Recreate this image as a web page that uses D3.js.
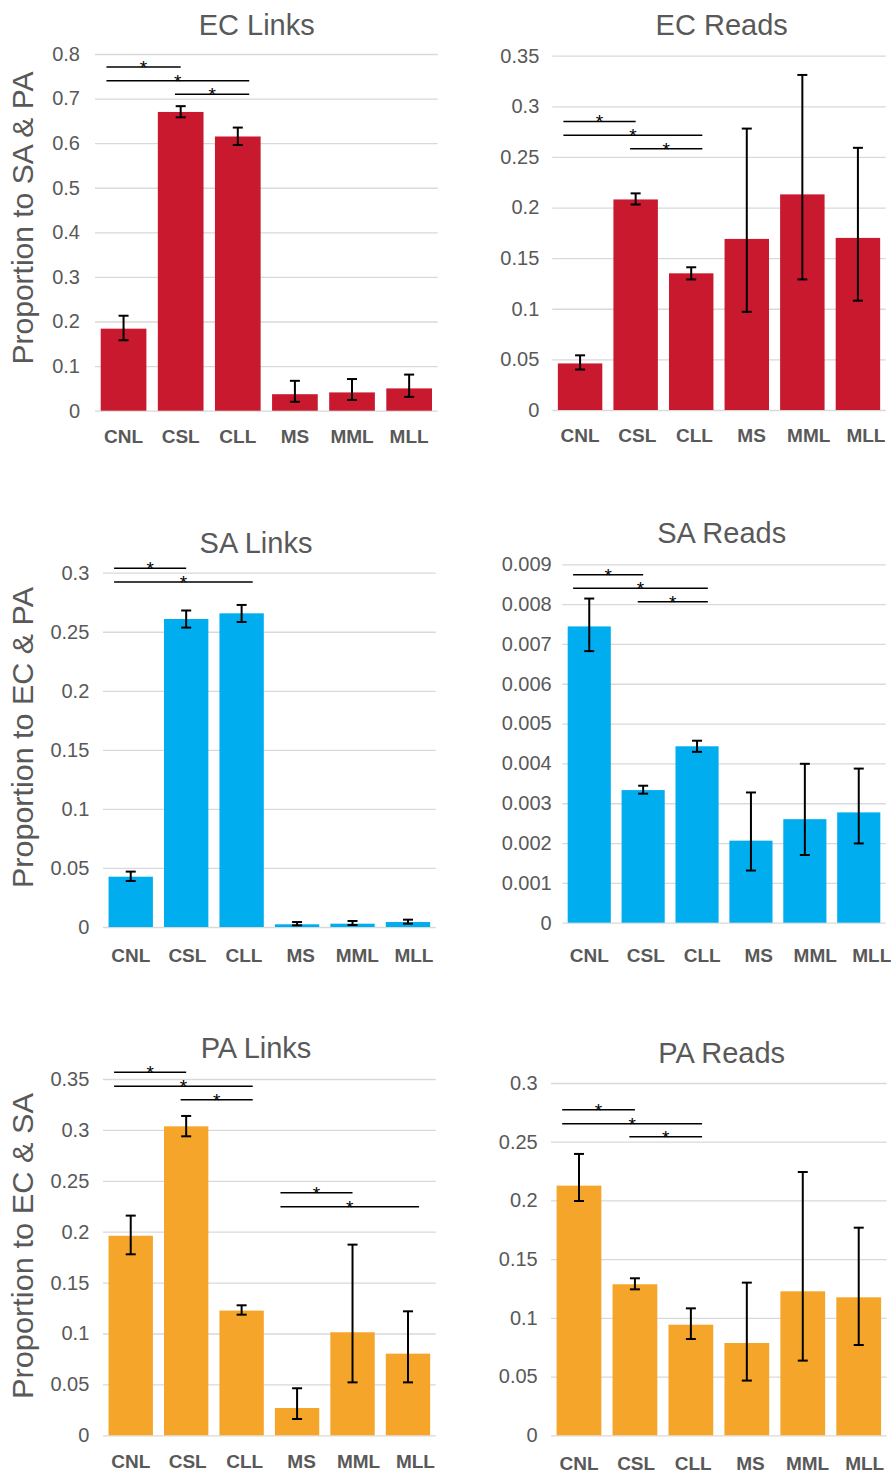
<!DOCTYPE html>
<html>
<head>
<meta charset="utf-8">
<script src="https://cdn.jsdelivr.net/npm/d3@7"></script>
<style>
  html, body { margin: 0; padding: 0; background: #fff; }
  svg { display: block; font-family: "Liberation Sans", Arial, sans-serif; }
</style>
</head>
<body>
<svg id="chart" width="893" height="1473"></svg>
<script>
// Sample groups on the x axis
const categories = ["CNL", "CSL", "CLL", "MS", "MML", "MLL"];

// EC links: proportion to SA & PA (mean, upper and lower error bar ends)
const ecLinks   = [0.184, 0.670, 0.615, 0.037, 0.041, 0.050];
const ecLinksHi = [0.213, 0.683, 0.635, 0.067, 0.071, 0.081];
const ecLinksLo = [0.158, 0.658, 0.596, 0.020, 0.024, 0.031];
const ecLinksTicks = [0, 0.1, 0.2, 0.3, 0.4, 0.5, 0.6, 0.7, 0.8];
const ecLinksSig = [{ a: 0, b: 1, at: 0.771 }, { a: 0, b: 2, at: 0.740 }, { a: 1, b: 2, at: 0.710 }];

// EC reads
const ecReads   = [0.046, 0.208, 0.135, 0.169, 0.213, 0.170];
const ecReadsHi = [0.054, 0.214, 0.141, 0.278, 0.331, 0.259];
const ecReadsLo = [0.040, 0.203, 0.129, 0.097, 0.129, 0.108];
const ecReadsTicks = [0, 0.05, 0.1, 0.15, 0.2, 0.25, 0.3, 0.35];
const ecReadsSig = [{ a: 0, b: 1, at: 0.285 }, { a: 0, b: 2, at: 0.2714 }, { a: 1, b: 2, at: 0.2582 }];

// SA links: proportion to EC & PA
const saLinks   = [0.0426, 0.2608, 0.2656, 0.0023, 0.0028, 0.0042];
const saLinksHi = [0.0469, 0.2680, 0.2727, 0.0042, 0.0051, 0.0062];
const saLinksLo = [0.0390, 0.2535, 0.2583, 0.0014, 0.0017, 0.0028];
const saLinksTicks = [0, 0.05, 0.1, 0.15, 0.2, 0.25, 0.3];
const saLinksSig = [{ a: 0, b: 1, at: 0.3037 }, { a: 0, b: 2, at: 0.2921 }];

// SA reads
const saReads   = [0.00744, 0.00333, 0.00443, 0.00206, 0.00260, 0.00277];
const saReadsHi = [0.00814, 0.00344, 0.00457, 0.00327, 0.00399, 0.00387];
const saReadsLo = [0.00682, 0.00324, 0.00429, 0.00131, 0.00170, 0.00199];
const saReadsTicks = [0, 0.001, 0.002, 0.003, 0.004, 0.005, 0.006, 0.007, 0.008, 0.009];
const saReadsSig = [{ a: 0, b: 1, at: 0.00874 }, { a: 0, b: 2, at: 0.00840 }, { a: 1, b: 2, at: 0.00806 }];

// PA links: proportion to EC & SA
const paLinks   = [0.1960, 0.3035, 0.1225, 0.0268, 0.1012, 0.0802];
const paLinksHi = [0.2158, 0.3137, 0.1277, 0.0462, 0.1873, 0.1218];
const paLinksLo = [0.1778, 0.2937, 0.1185, 0.0160, 0.0520, 0.0520];
const paLinksTicks = [0, 0.05, 0.1, 0.15, 0.2, 0.25, 0.3, 0.35];
const paLinksSig = [
  { a: 0, b: 1, at: 0.3566 }, { a: 0, b: 2, at: 0.3428 }, { a: 1, b: 2, at: 0.3297 },
  { a: 3, b: 4, at: 0.2383 }, { a: 3, b: 5, at: 0.2246 }
];

// PA reads
const paReads   = [0.2126, 0.1286, 0.0942, 0.0786, 0.1226, 0.1175];
const paReadsHi = [0.2396, 0.1337, 0.1081, 0.1300, 0.2242, 0.1768];
const paReadsLo = [0.1995, 0.1243, 0.0820, 0.0466, 0.0636, 0.0769];
const paReadsTicks = [0, 0.05, 0.1, 0.15, 0.2, 0.25, 0.3];
const paReadsSig = [{ a: 0, b: 1, at: 0.2773 }, { a: 0, b: 2, at: 0.2653 }, { a: 1, b: 2, at: 0.2543 }];

const RED = "#C8192F", BLUE = "#00AEEF", ORANGE = "#F5A52A";
const TEXT = "#595959", GRID = "#D9D9D9";

const panels = [
  { title: "EC Links", yTitle: "Proportion to SA & PA", color: RED,
    values: ecLinks, hi: ecLinksHi, lo: ecLinksLo, ticks: ecLinksTicks, sig: ecLinksSig,
    box: { x0: 95, x1: 437.7, yTop: 54, yBot: 410.7 }, titleX: 256.7, titleY: 35,
    tickGap: 15, labelDy: 32, labelSpread: 0, yTitleX: 33, yTitleY: 218, yTitleLen: 293 },
  { title: "EC Reads", color: RED,
    values: ecReads, hi: ecReadsHi, lo: ecReadsLo, ticks: ecReadsTicks, sig: ecReadsSig,
    box: { x0: 552.3, x1: 885.7, yTop: 55.7, yBot: 410 }, titleX: 721.7, titleY: 35,
    tickGap: 13, labelDy: 31.7, labelSpread: 8 },
  { title: "SA Links", yTitle: "Proportion to EC & PA", color: BLUE,
    values: saLinks, hi: saLinksHi, lo: saLinksLo, ticks: saLinksTicks, sig: saLinksSig,
    box: { x0: 103, x1: 435.7, yTop: 572.7, yBot: 927 }, titleX: 256, titleY: 553.3,
    tickGap: 13.7, labelDy: 34.7, labelSpread: 6, yTitleX: 33, yTitleY: 737.5, yTitleLen: 301 },
  { title: "SA Reads", color: BLUE,
    values: saReads, hi: saReadsHi, lo: saReadsLo, ticks: saReadsTicks, sig: saReadsSig,
    box: { x0: 562.3, x1: 885.7, yTop: 564.3, yBot: 922.7 }, titleX: 721.7, titleY: 543.3,
    tickGap: 10.6, labelDy: 39, labelSpread: 13 },
  { title: "PA Links", yTitle: "Proportion to EC & SA", color: ORANGE,
    values: paLinks, hi: paLinksHi, lo: paLinksLo, ticks: paLinksTicks, sig: paLinksSig,
    box: { x0: 103, x1: 435.7, yTop: 1079, yBot: 1435.3 }, titleX: 256, titleY: 1058.3,
    tickGap: 13.7, labelDy: 32.4, labelSpread: 7.5, yTitleX: 33, yTitleY: 1246, yTitleLen: 306 },
  { title: "PA Reads", color: ORANGE,
    values: paReads, hi: paReadsHi, lo: paReadsLo, ticks: paReadsTicks, sig: paReadsSig,
    box: { x0: 551, x1: 886.7, yTop: 1083, yBot: 1435.3 }, titleX: 721.7, titleY: 1063.3,
    tickGap: 13.3, labelDy: 34.7, labelSpread: 6 }
];

const svg = d3.select("#chart");
svg.append("rect").attr("width", 893).attr("height", 1473).attr("fill", "#fff");

const fmt = v => String(+v.toFixed(4));

panels.forEach(p => {
  const g = svg.append("g");
  const b = p.box;
  const yMax = p.ticks[p.ticks.length - 1];

  const x = d3.scaleBand().domain(categories).range([b.x0, b.x1])
    .paddingInner(0.2).paddingOuter(0.1);
  const y = d3.scaleLinear().domain([0, yMax]).range([b.yBot, b.yTop]);
  const step = x.step();
  const cx = i => x(categories[i]) + x.bandwidth() / 2;

  // Horizontal gridlines and tick labels
  const yAxis = d3.axisLeft(y).tickValues(p.ticks).tickFormat(fmt)
    .tickSize(-(b.x1 - b.x0)).tickPadding(p.tickGap);
  const ax = g.append("g").attr("transform", `translate(${b.x0},0)`).call(yAxis);
  ax.select(".domain").remove();
  ax.selectAll(".tick line").attr("stroke", GRID).attr("stroke-width", 1.3);
  ax.selectAll(".tick text").attr("fill", TEXT).attr("font-size", 20)
    .attr("font-family", "'Liberation Sans', Arial, sans-serif");

  // Bars
  g.selectAll("rect.bar").data(p.values).join("rect")
    .attr("class", "bar")
    .attr("x", (d, i) => x(categories[i]))
    .attr("width", x.bandwidth())
    .attr("y", d => y(d))
    .attr("height", d => y(0) - y(d))
    .attr("fill", p.color);

  // Error bars
  const eb = g.selectAll("g.err").data(p.values).join("g").attr("class", "err")
    .attr("stroke", "#000").attr("stroke-width", 2);
  eb.append("line")
    .attr("x1", (d, i) => cx(i)).attr("x2", (d, i) => cx(i))
    .attr("y1", (d, i) => y(p.hi[i])).attr("y2", (d, i) => y(p.lo[i]));
  eb.append("line")
    .attr("x1", (d, i) => cx(i) - 5).attr("x2", (d, i) => cx(i) + 5)
    .attr("y1", (d, i) => y(p.hi[i])).attr("y2", (d, i) => y(p.hi[i]));
  eb.append("line")
    .attr("x1", (d, i) => cx(i) - 5).attr("x2", (d, i) => cx(i) + 5)
    .attr("y1", (d, i) => y(p.lo[i])).attr("y2", (d, i) => y(p.lo[i]));

  // Category labels
  const lx = d3.scalePoint().domain(categories)
    .range([cx(0), cx(categories.length - 1) + p.labelSpread]);
  g.selectAll("text.cat").data(categories).join("text")
    .attr("class", "cat")
    .attr("x", d => lx(d))
    .attr("y", b.yBot + p.labelDy)
    .attr("text-anchor", "middle")
    .attr("font-size", 19).attr("font-weight", "bold").attr("fill", TEXT)
    .text(d => d);

  // Significance brackets
  p.sig.forEach(s => {
    const overl = p.sig.filter(o => o.a <= s.b && o.b >= s.a);
    const outerL = s.a === d3.min(overl, o => o.a);
    const outerR = s.b === d3.max(overl, o => o.b);
    const x1 = cx(s.a) + (outerL ? -0.3 : -0.1) * step;
    const x2 = cx(s.b) + (outerR ? 0.2 : 0.0) * step;
    const yy = y(s.at);
    g.append("line").attr("x1", x1).attr("x2", x2).attr("y1", yy).attr("y2", yy)
      .attr("stroke", "#000").attr("stroke-width", 1.5);
    g.append("text").attr("x", (x1 + x2) / 2).attr("y", yy + 7)
      .attr("text-anchor", "middle").attr("font-size", 19).attr("fill", "#000")
      .text("*");
  });

  // Panel title
  g.append("text").attr("x", p.titleX).attr("y", p.titleY)
    .attr("text-anchor", "middle").attr("font-size", 29).attr("fill", TEXT)
    .text(p.title);

  // Y axis title (left column only)
  if (p.yTitle) {
    g.append("text")
      .attr("transform", `translate(${p.yTitleX},${p.yTitleY}) rotate(-90)`)
      .attr("text-anchor", "middle").attr("font-size", 29).attr("fill", TEXT)
      .attr("textLength", p.yTitleLen).attr("lengthAdjust", "spacingAndGlyphs")
      .text(p.yTitle);
  }
});
</script>
</body>
</html>
